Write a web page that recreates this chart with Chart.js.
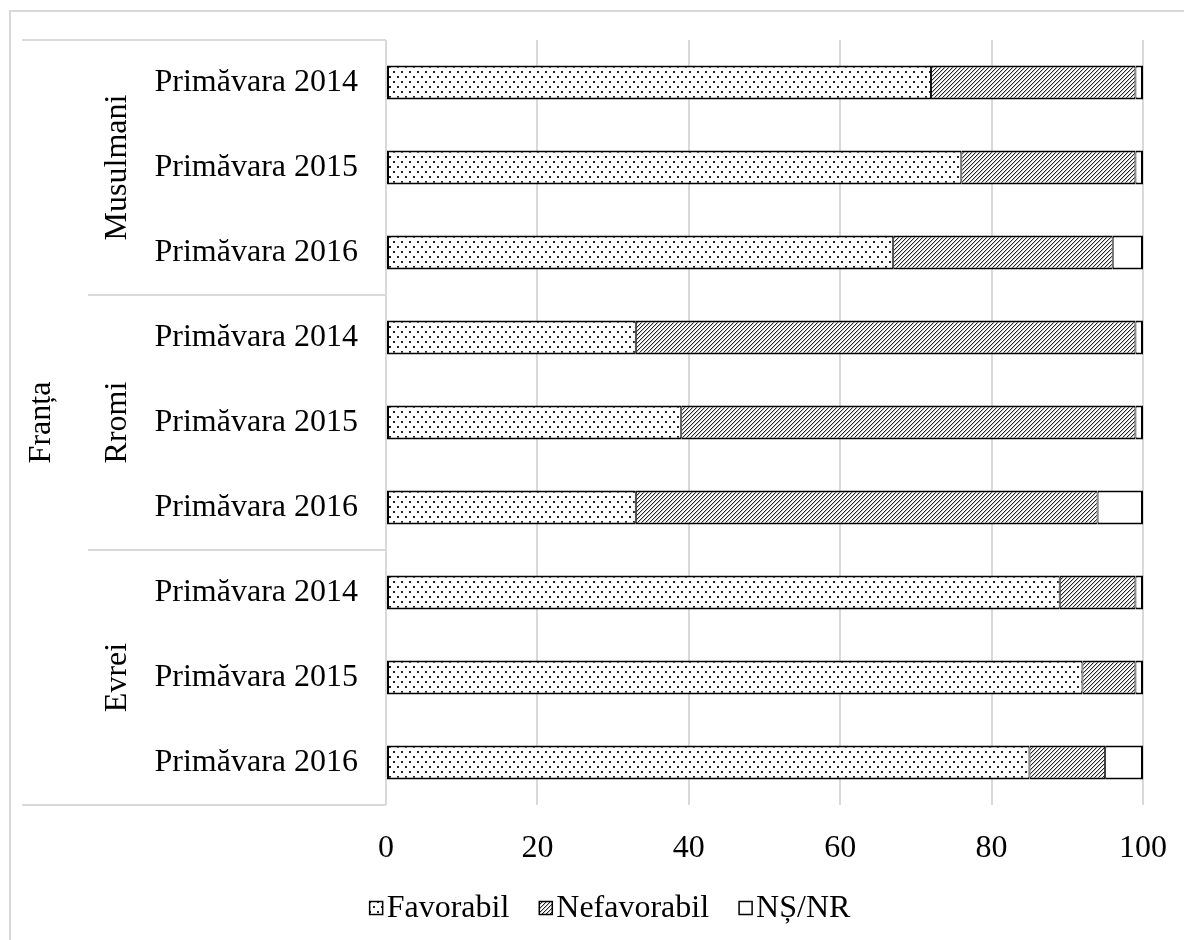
<!DOCTYPE html>
<html>
<head>
<meta charset="utf-8">
<script src="https://cdn.jsdelivr.net/npm/chart.js@4.4.1/dist/chart.umd.min.js"></script>
<style>
  body { margin: 0; background: #fff; }
</style>
</head>
<body>
<canvas id="chart" width="1184" height="940"></canvas>
<script>
const country = "Franța";
const groups = ["Musulmani", "Rromi", "Evrei"];
const periods = ["Primăvara 2014", "Primăvara 2015", "Primăvara 2016"];
const seriesNames = ["Favorabil", "Nefavorabil", "NȘ/NR"];
const favorabil = [72, 76, 67, 33, 39, 33, 89, 92, 85];
const nefavorabil = [27, 23, 29, 66, 60, 61, 10, 7, 10];
const nsnr = [1, 1, 4, 1, 1, 6, 1, 1, 5];
const xTicks = [0, 20, 40, 60, 80, 100];

const FONT = "'Liberation Serif', 'Times New Roman', serif";
const SIZE = 32;
const GRID = "#d9d9d9";

// fill patterns like the excel ones
function dotPattern() {
  const c = document.createElement("canvas");
  c.width = 8; c.height = 10;
  const g = c.getContext("2d");
  g.fillStyle = "#fff";
  g.fillRect(0, 0, 8, 10);
  g.fillStyle = "#222";
  g.fillRect(1, 1, 2, 2);
  g.fillRect(5, 6, 2, 2);
  return g.createPattern(c, "repeat");
}

function hatchPattern() {
  const c = document.createElement("canvas");
  c.width = 4; c.height = 4;
  const g = c.getContext("2d");
  g.fillStyle = "#fff";
  g.fillRect(0, 0, 4, 4);
  for (let i = 0; i < 4; i++) {
    g.fillStyle = "#222";
    g.fillRect(3 - i, i, 1, 1);
    g.fillStyle = "#c4c4c4";
    g.fillRect((4 - i) % 4, i, 1, 1);
  }
  return g.createPattern(c, "repeat");
}

const fills = [dotPattern(), hatchPattern(), "#fff"];

// category labels: every group repeats the three periods
let labels = [];
groups.forEach(() => labels = labels.concat(periods));

// outer frame + hierarchy table + group names
const tablePlugin = {
  id: "table",
  beforeDraw(chart) {
    const ctx = chart.ctx;
    ctx.save();
    ctx.strokeStyle = GRID;
    ctx.lineWidth = 2;
    ctx.beginPath();
    ctx.moveTo(10, chart.height);
    ctx.lineTo(10, 11);
    ctx.lineTo(chart.width, 11);
    ctx.stroke();
    ctx.restore();
  },
  afterDraw(chart) {
    const ctx = chart.ctx;
    const area = chart.chartArea;
    const step = (area.bottom - area.top) / labels.length;
    ctx.save();
    ctx.strokeStyle = GRID;
    ctx.lineWidth = 2;
    for (let g = 0; g <= groups.length; g++) {
      const y = Math.round(area.top + g * periods.length * step);
      const x0 = (g === 0 || g === groups.length) ? 22 : 88;
      ctx.beginPath();
      ctx.moveTo(x0, y);
      ctx.lineTo(area.left, y);
      ctx.stroke();
    }
    ctx.fillStyle = "#000";
    ctx.font = SIZE + "px " + FONT;
    ctx.textAlign = "center";
    ctx.textBaseline = "middle";
    groups.forEach((name, g) => {
      const yc = area.top + (g + 0.5) * periods.length * step;
      ctx.save();
      ctx.translate(118, yc);
      ctx.rotate(-Math.PI / 2);
      ctx.fillText(name, 0, 0);
      ctx.restore();
    });
    ctx.save();
    ctx.translate(42, (area.top + area.bottom) / 2);
    ctx.rotate(-Math.PI / 2);
    ctx.fillText(country, 0, 0);
    ctx.restore();
    ctx.restore();
  }
};

// legend with small square boxes
const legendPlugin = {
  id: "boxLegend",
  afterDraw(chart) {
    const ctx = chart.ctx;
    ctx.save();
    ctx.font = SIZE + "px " + FONT;
    ctx.textBaseline = "middle";
    const box = 13, gap = 4, space = 30;
    const items = chart.data.datasets.map(ds => ({ ds: ds, w: box + gap + ctx.measureText(ds.label).width }));
    const total = items.reduce((s, it) => s + it.w, 0) + space * (items.length - 1);
    let x = 610 - total / 2;
    const y = 908;
    items.forEach(it => {
      ctx.fillStyle = it.ds.backgroundColor;
      ctx.fillRect(x, y - box / 2, box, box);
      ctx.strokeStyle = "#000";
      ctx.lineWidth = 1.5;
      ctx.strokeRect(x, y - box / 2, box, box);
      ctx.fillStyle = "#000";
      ctx.fillText(it.ds.label, x + box + gap, y + 1);
      x += it.w + space;
    });
    ctx.restore();
  }
};

const datasets = [favorabil, nefavorabil, nsnr].map((vals, i) => ({
  label: seriesNames[i],
  data: vals,
  backgroundColor: fills[i],
  borderColor: "#000",
  borderWidth: { top: 2, bottom: 2, left: i === 0 ? 2 : 1, right: i === 2 ? 2 : 1 },
  borderSkipped: false,
  barPercentage: 0.4,
  categoryPercentage: 1
}));

new Chart(document.getElementById("chart"), {
  type: "bar",
  data: { labels: labels, datasets: datasets },
  options: {
    indexAxis: "y",
    responsive: false,
    animation: false,
    layout: { padding: { top: 40, right: 41, bottom: 0, left: 0 } },
    plugins: { legend: { display: false }, tooltip: { enabled: false } },
    scales: {
      x: {
        stacked: true,
        min: 0,
        max: 100,
        afterBuildTicks: s => { s.ticks = xTicks.map(v => ({ value: v })); },
        afterFit: s => { s.height = 135; s.paddingLeft = 0; s.paddingRight = 0; },
        grid: { color: GRID, lineWidth: 2, drawTicks: false },
        border: { display: false },
        ticks: { color: "#000", font: { family: FONT, size: SIZE }, padding: 24 }
      },
      y: {
        stacked: true,
        afterFit: s => { s.width = 386; s.paddingTop = 0; s.paddingBottom = 0; },
        grid: { display: false, drawTicks: false },
        border: { display: false },
        ticks: { color: "#000", font: { family: FONT, size: SIZE }, padding: 28, autoSkip: false }
      }
    }
  },
  plugins: [tablePlugin, legendPlugin]
});
</script>
</body>
</html>
